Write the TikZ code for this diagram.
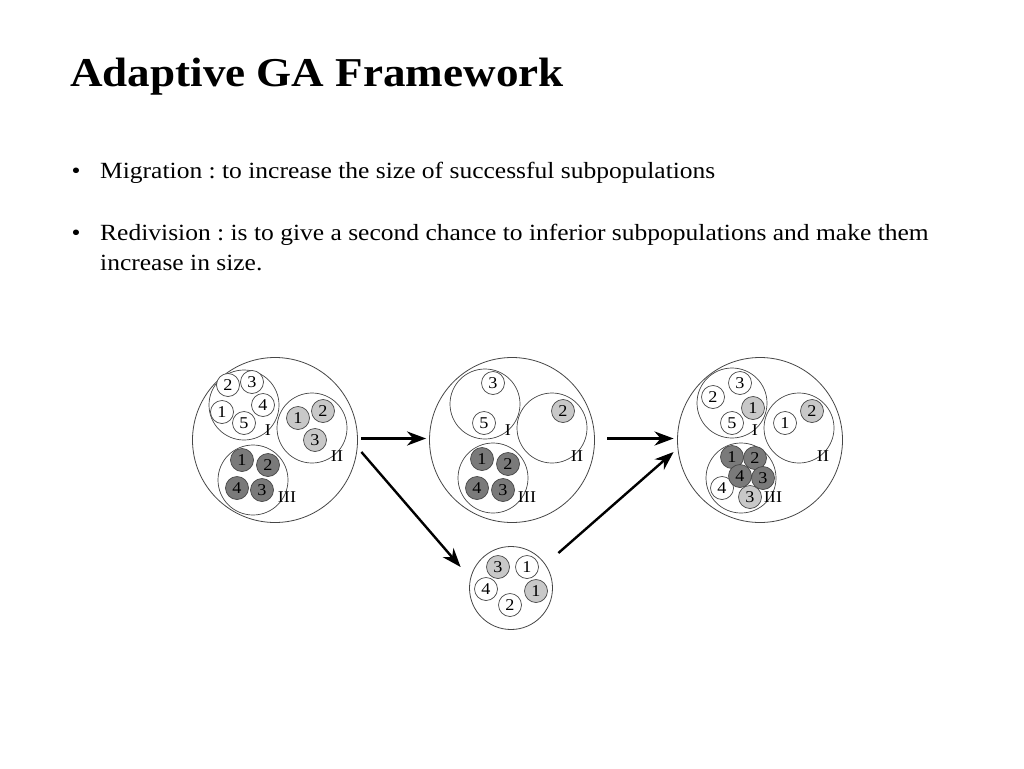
\documentclass[tikz,border=0pt]{standalone}
\usepackage{fontspec}
\setmainfont[FakeStretch = 1.1]{Liberation Serif}
\usepackage{tikz}
\usetikzlibrary{arrows.meta}
\usepackage{xcolor}
\frenchspacing

\definecolor{lightind}{RGB}{200,200,200}
\definecolor{darkind}{RGB}{122,122,122}
\definecolor{ring}{RGB}{70,70,70}

\tikzset{
  pop/.style = {draw = ring, circle, line width = .8pt, minimum size = 165pt, inner sep = 0},
  popsmall/.style = {draw = ring, circle, line width = .8pt, minimum size = 83pt, inner sep = 0},
  sub/.style = {draw = ring, circle, line width = .7pt, minimum size = 70pt, inner sep = 0},
  ind/.style = {draw = ring, circle, line width = .7pt, fill = white, minimum size = 23pt, inner sep = 0, font = \fontsize{16.5}{16.5}\selectfont},
  indl/.style = {ind, fill = lightind},
  indd/.style = {ind, fill = darkind},
  tag/.style = {font = \fontsize{16.5}{16.5}\selectfont, inner sep = 0},
  mig/.style = {line width = 2.8pt, -{Stealth[length = 19pt, width = 14pt, inset = 6pt]}}
}

\begin{document}
\begin{tikzpicture}[x = 1pt, y = -1pt]
  \useasboundingbox[fill = white] (0, 0) rectangle (1024, 768);

  % text
  \node[anchor = base west, inner sep = 0, font = \fontsize{41}{49}\selectfont\bfseries] (title) at (70, 86) {Adaptive GA Framework};
  \node[anchor = base, inner sep = 0, font = \fontsize{23.2}{30}\selectfont] (b1) at (76, 178) {\textbullet};
  \node[anchor = base west, inner sep = 0, font = \fontsize{23.2}{30}\selectfont] (mig) at (100, 178) {Migration : to increase the size of successful subpopulations};
  \node[anchor = base, inner sep = 0, font = \fontsize{23.2}{30}\selectfont] (b2) at (76, 240) {\textbullet};
  \node[anchor = base west, inner sep = 0, font = \fontsize{23.2}{30}\selectfont] (red1) at (100, 240) {Redivision : is to give a second chance to inferior subpopulations and make them};
  \node[anchor = base west, inner sep = 0, font = \fontsize{23.2}{30}\selectfont] (red2) at (100, 270) {increase in size.};

  % first population
  \node[pop] (p1) at (275, 440) {};
  \node[sub] (p1a) at (244, 405) {};
  \node[sub] (p1b) at (312, 428) {};
  \node[sub] (p1c) at (253, 480) {};
  \node[ind] (p1a2) at (228, 385) {2};
  \node[ind] (p1a3) at (252, 382) {3};
  \node[ind] (p1a4) at (263, 405) {4};
  \node[ind] (p1a1) at (222, 412) {1};
  \node[ind] (p1a5) at (244, 423) {5};
  \node[indl] (p1b1) at (298, 418) {1};
  \node[indl] (p1b2) at (323, 411) {2};
  \node[indl] (p1b3) at (315, 440) {3};
  \node[indd] (p1c1) at (242, 460) {1};
  \node[indd] (p1c2) at (268, 465) {2};
  \node[indd] (p1c4) at (237, 488) {4};
  \node[indd] (p1c3) at (262, 490) {3};
  \node[tag] at (268, 430) {I};
  \node[tag] at (337, 456) {II};
  \node[tag] at (287, 497) {III};

  % second population
  \node[pop] (p2) at (512, 440) {};
  \node[sub] (p2a) at (485, 404) {};
  \node[sub] (p2b) at (552, 428) {};
  \node[sub] (p2c) at (493, 478) {};
  \node[ind] (p2a3) at (493, 383) {3};
  \node[ind] (p2a5) at (484, 423) {5};
  \node[indl] (p2b2) at (563, 411) {2};
  \node[indd] (p2c1) at (482, 459) {1};
  \node[indd] (p2c2) at (508, 464) {2};
  \node[indd] (p2c4) at (477, 488) {4};
  \node[indd] (p2c3) at (503, 490) {3};
  \node[tag] at (508, 430) {I};
  \node[tag] at (577, 456) {II};
  \node[tag] at (527, 497) {III};

  % third population
  \node[pop] (p3) at (760, 440) {};
  \node[sub] (p3a) at (732, 403) {};
  \node[sub] (p3b) at (799, 428) {};
  \node[sub] (p3c) at (741, 478) {};
  \node[ind] (p3a3) at (740, 383) {3};
  \node[ind] (p3a2) at (713, 397) {2};
  \node[indl] (p3a1) at (753, 408) {1};
  \node[ind] (p3a5) at (732, 423) {5};
  \node[ind] (p3b1) at (785, 423) {1};
  \node[indl] (p3b2) at (812, 411) {2};
  \node[ind] (p3c4w) at (722, 488) {4};
  \node[indd] (p3c1) at (732, 457) {1};
  \node[indd] (p3c2) at (755, 458) {2};
  \node[indd] (p3c3) at (763, 478) {3};
  \node[indd] (p3c4) at (740, 476) {4};
  \node[indl] (p3c3l) at (750, 497) {3};
  \node[tag] at (755, 430) {I};
  \node[tag] at (823, 456) {II};
  \node[tag] at (773, 497) {III};

  % redivided pool
  \node[popsmall] (p4) at (511, 588) {};
  \node[indl] (p4a) at (498, 567) {3};
  \node[ind] (p4b) at (527, 567) {1};
  \node[ind] (p4c) at (486, 589) {4};
  \node[indl] (p4d) at (536, 591) {1};
  \node[ind] (p4e) at (510, 605) {2};

  % arrows
  \draw[mig] ([xshift = 3.5pt, yshift = 1.5pt]p1.east) -- ([xshift = -3pt, yshift = 1.5pt]p2.west);
  \draw[mig] ([xshift = 12.5pt, yshift = 1.5pt]p2.east) -- ([xshift = -3.5pt, yshift = 1.5pt]p3.west);
  \draw[mig, line width = 2.4pt] ([xshift = 3.5pt, yshift = -12pt]p1.east) -- ([xshift = -8.5pt, yshift = 21pt]p4.west);
  \draw[mig, line width = 2.4pt] ([xshift = 5.5pt, yshift = 35pt]p4.east) -- ([xshift = -3.5pt, yshift = -12pt]p3.west);
\end{tikzpicture}
\end{document}
